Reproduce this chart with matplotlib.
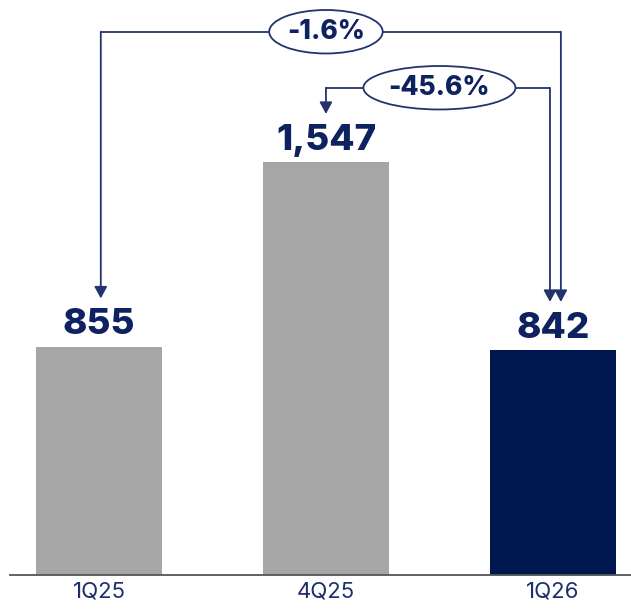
import matplotlib
matplotlib.use("Agg")
import matplotlib.pyplot as plt
from matplotlib.patches import Ellipse, FancyArrowPatch

categories = ["1Q25", "4Q25", "1Q26"]
values = [855, 1547, 842]
value_labels = ["855", "1,547", "842"]
changes = [("-1.6%", 0, 2), ("-45.6%", 1, 2)]

GRAY = "#a6a6a6"
NAVY = "#00184f"
INK = "#0e2160"
LINE = "#23336b"

plt.rcParams["font.family"] = ["Inter", "DejaVu Sans"]

fig = plt.figure(figsize=(6.31, 6.09), dpi=100)
ax = fig.add_axes([10 / 631, 34 / 609, 621 / 631, 575 / 609])
ax.set_xlim(-0.392, 2.344)
ax.set_ylim(0, 2156)

colors = [GRAY, GRAY, NAVY]
ax.bar(range(len(values)), values, width=0.555, color=colors, zorder=2)

for i, (v, lab) in enumerate(zip(values, value_labels)):
    ax.text(i, v + 22, lab, ha="center", va="bottom", fontsize=26.5,
            fontweight="heavy", color=INK)

for s in ["top", "right", "left"]:
    ax.spines[s].set_visible(False)
ax.spines["bottom"].set_color("#555555")
ax.spines["bottom"].set_linewidth(1.3)
ax.set_yticks([])
ax.set_xticks(range(len(categories)))
ax.set_xticklabels(categories, fontsize=16, color="#1c2f6c")
ax.tick_params(axis="x", length=0, pad=5)

# bracket arrows linking periods
levels = [2037, 1827]
src_shift = [0.008, 0.0]
dst_shift = [0.035, -0.013]
ell_w = [0.50, 0.67]
for (lab, a, b), yl, ss, ds, ew in zip(changes, levels, src_shift, dst_shift, ell_w):
    xa = a + ss
    xb = b + ds
    ax.plot([xa, xb], [yl, yl], color=LINE, lw=1.3, zorder=3,
            solid_capstyle="butt")
    for x, tgt in [(xa, values[a]), (xb, values[b])]:
        ax.add_patch(FancyArrowPatch((x, yl), (x, tgt + 182),
                                     arrowstyle="-|>,head_length=7,head_width=3.8",
                                     color=LINE, lw=1.3, shrinkA=0, shrinkB=0,
                                     zorder=3))
    xc = (a + b) / 2
    ax.add_patch(Ellipse((xc, yl), ew, 163, facecolor="white",
                         edgecolor=LINE, lw=1.3, zorder=4))
    ax.text(xc, yl, lab, ha="center", va="center", fontsize=19,
            fontweight="heavy", color=INK, zorder=5)

fig.savefig("out.png", dpi=100)
